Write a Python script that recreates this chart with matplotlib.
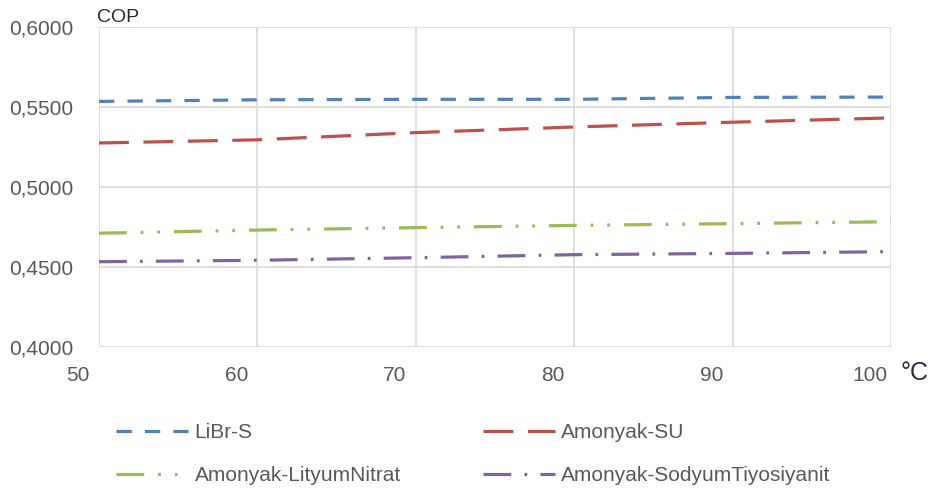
import matplotlib
matplotlib.use('Agg')
import matplotlib.pyplot as plt
import matplotlib.transforms as mtransforms
from matplotlib.ticker import FuncFormatter

plt.rcParams['font.family'] = ['Liberation Sans', 'DejaVu Sans']
plt.rcParams['lines.scale_dashes'] = False

# generator temperature (°C) and COP of each working pair
temps = [50, 60, 70, 80, 90, 100]
cop_libr = [0.5535, 0.5545, 0.5548, 0.5548, 0.5560, 0.5562]
cop_nh3_h2o = [0.5275, 0.5295, 0.5340, 0.5375, 0.5405, 0.5432]
cop_nh3_lino3 = [0.4711, 0.4731, 0.4746, 0.4760, 0.4771, 0.4783]
cop_nh3_nascn = [0.4533, 0.4542, 0.4558, 0.4577, 0.4585, 0.4596]
names = ['LiBr-S', 'Amonyak-SU', 'Amonyak-LityumNitrat', 'Amonyak-SodyumTiyosiyanit']

colors = ['#4F81BD', '#C0504D', '#9BBB59', '#8064A2']
dashes = [(11, 9.5), (21.5, 10.5), (20, 10, 2, 10, 2, 10), (20, 9.5, 2, 9.5)]
GRID = '#D9D9D9'
TXT = '#595959'

fig = plt.figure(figsize=(9.32, 4.9), dpi=100)
ax = fig.add_axes([99 / 932, 1 - 347 / 490, 792 / 932, 320 / 490])

series = [cop_libr, cop_nh3_h2o, cop_nh3_lino3, cop_nh3_nascn]
lines = []
for vals, name, c, d in zip(series, names, colors, dashes):
    ln, = ax.plot(temps, vals, color=c, lw=2.3, label=name)
    ln.set_dashes(d)
    ln.set_dash_capstyle('butt')
    lines.append(ln)

ax.set_xlim(50, 100)
ax.set_ylim(0.40, 0.60)
ax.set_xticks(temps)
ax.set_yticks([0.40, 0.45, 0.50, 0.55, 0.60])
ax.yaxis.set_major_formatter(FuncFormatter(lambda v, p: f'{v:.4f}'.replace('.', ',')))
ax.grid(True, color=GRID, lw=1.2)
ax.set_axisbelow(True)
for s in ax.spines.values():
    s.set_visible(False)
ax.tick_params(length=0, labelsize=15, labelcolor=TXT)
ax.tick_params(axis='y', pad=18.5)
ax.tick_params(axis='x', pad=14)

# x labels sit a little left of their gridlines
shift = mtransforms.ScaledTranslation(-21 / 100, 0, fig.dpi_scale_trans)
for lbl in ax.get_xticklabels():
    lbl.set_transform(lbl.get_transform() + shift)

fig.text(97 / 932, 1 - 17 / 490, 'COP', fontsize=14, color='#262a40', va='center', ha='left')
fig.text(900 / 932, 1 - 373 / 490, '°C', fontsize=18, color='#262a40', va='center', ha='left')

# row-wise order: LiBr-S, Amonyak-SU / LityumNitrat, SodyumTiyosiyanit
order = [0, 2, 1, 3]
fig.legend([lines[i] for i in order], [names[i] for i in order],
           loc='upper left', bbox_to_anchor=(108 / 932, 1 - 415 / 490), ncol=2,
           frameon=False, fontsize=15, labelcolor=TXT, handlelength=3.45,
           handletextpad=0.3, columnspacing=3.95, labelspacing=1.15,
           borderaxespad=0, borderpad=0.4)

fig.savefig('out.png', dpi=100, facecolor='white')
